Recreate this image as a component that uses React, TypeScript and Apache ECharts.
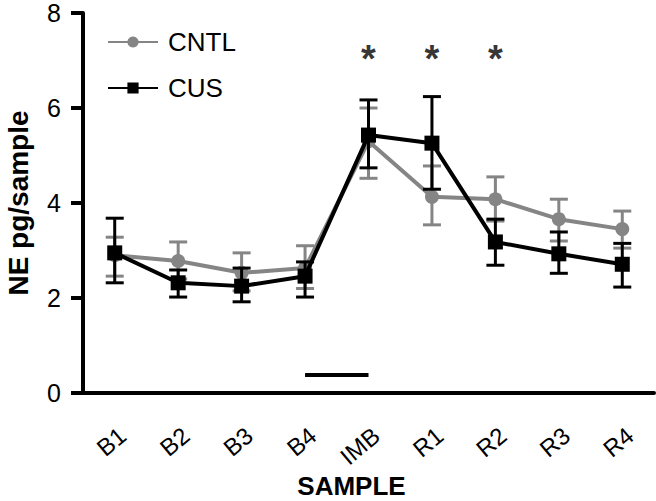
import React, { useEffect, useRef } from "react";
import * as echarts from "echarts";

const categories = ["B1", "B2", "B3", "B4", "IMB", "R1", "R2", "R3", "R4"];
const cntlMean = [2.9, 2.78, 2.53, 2.63, 5.3, 4.13, 4.08, 3.66, 3.45];
const cntlUpper = [3.28, 3.18, 2.95, 3.1, 6.0, 4.78, 4.55, 4.08, 3.83];
const cntlLower = [2.46, 2.4, 2.15, 2.2, 4.52, 3.54, 3.62, 3.2, 3.05];
const cusMean = [2.95, 2.32, 2.25, 2.46, 5.43, 5.26, 3.18, 2.93, 2.71];
const cusUpper = [3.68, 2.59, 2.63, 2.76, 6.17, 6.24, 3.66, 3.39, 3.15];
const cusLower = [2.32, 2.02, 1.92, 2.02, 4.74, 4.29, 2.69, 2.52, 2.23];
const starCategories = ["IMB", "R1", "R2"];
const starLevel = 7.2;
const barCategories = ["B4", "IMB"];
const barLevel = 0.38;
const yTicks = [0, 2, 4, 6, 8];

const GRAY = "#858585";
const BLACK = "#000000";
const FONT = "'Liberation Sans', Arial, Helvetica, sans-serif";

function errorSeries(lower: number[], upper: number[], color: string, z: number) {
  return {
    type: "custom",
    z,
    silent: true,
    data: categories.map((_, i) => [i, lower[i], upper[i]]),
    renderItem: (params: any, api: any) => {
      const x = api.value(0);
      const lo = api.coord([x, api.value(1)]);
      const hi = api.coord([x, api.value(2)]);
      const half = 9;
      const style = { stroke: color, lineWidth: 3 };
      return {
        type: "group",
        children: [
          { type: "line", shape: { x1: lo[0], y1: lo[1], x2: hi[0], y2: hi[1] }, style },
          { type: "line", shape: { x1: hi[0] - half, y1: hi[1], x2: hi[0] + half, y2: hi[1] }, style },
          { type: "line", shape: { x1: lo[0] - half, y1: lo[1], x2: lo[0] + half, y2: lo[1] }, style },
        ],
      };
    },
  };
}

export default function App() {
  const ref = useRef<HTMLDivElement>(null);
  useEffect(() => {
    if (!ref.current) return;
    const chart = echarts.init(ref.current, null, { renderer: "svg" });
    chart.setOption({
      animation: false,
      backgroundColor: "#ffffff",
      textStyle: { fontFamily: FONT },
      grid: {
        left: 83,
        right: 2,
        top: 13,
        bottom: 108,
        containLabel: false,
        outerBoundsMode: "none",
      },
      legend: {
        data: ["CNTL", "CUS"],
        orient: "vertical",
        left: 102,
        top: 24,
        itemWidth: 50,
        itemHeight: 14,
        itemGap: 20,
        textStyle: {
          fontSize: 26,
          lineHeight: 26,
          color: "#000",
          fontFamily: FONT,
          padding: [0, 0, 0, 5],
        },
      },
      xAxis: {
        type: "category",
        data: categories,
        boundaryGap: true,
        name: "SAMPLE",
        nameLocation: "middle",
        nameGap: 80,
        nameMoveOverlap: false,
        nameTextStyle: {
          fontSize: 26,
          lineHeight: 26,
          fontWeight: "bold",
          color: "#000",
          fontFamily: FONT,
          padding: [0, 34, 0, 0],
        },
        axisLine: { lineStyle: { color: "#000", width: 4 } },
        axisTick: { alignWithLabel: true, length: 11, lineStyle: { color: "#000", width: 4 } },
        axisLabel: {
          rotate: 40,
          fontSize: 24,
          lineHeight: 24,
          color: "#000",
          margin: 30,
          verticalAlign: "top",
          fontFamily: FONT,
        },
        splitLine: { show: false },
      },
      yAxis: {
        type: "value",
        min: yTicks[0],
        max: yTicks[yTicks.length - 1],
        interval: 2,
        name: "NE pg/sample",
        nameLocation: "middle",
        nameGap: 51,
        nameMoveOverlap: false,
        nameTextStyle: {
          fontSize: 28,
          lineHeight: 28,
          fontWeight: "bold",
          color: "#000",
          fontFamily: FONT,
        },
        axisLine: { show: true, lineStyle: { color: "#000", width: 4 } },
        axisTick: { show: true, length: 12, lineStyle: { color: "#000", width: 4 } },
        axisLabel: { fontSize: 25, color: "#000", margin: 22, fontFamily: FONT },
        splitLine: { show: false },
      },
      series: [
        errorSeries(cntlLower, cntlUpper, GRAY, 2),
        {
          name: "CNTL",
          type: "line",
          z: 3,
          data: cntlMean,
          symbol: "circle",
          symbolSize: 14,
          lineStyle: { color: GRAY, width: 4 },
          itemStyle: { color: GRAY },
        },
        errorSeries(cusLower, cusUpper, BLACK, 4),
        {
          name: "CUS",
          type: "line",
          z: 5,
          data: cusMean,
          symbol: "rect",
          symbolSize: 15,
          lineStyle: { color: BLACK, width: 4 },
          itemStyle: { color: BLACK },
        },
        {
          type: "line",
          z: 5,
          data: barCategories.map((c) => [c, barLevel]),
          symbol: "none",
          lineStyle: { color: BLACK, width: 4 },
          silent: true,
        },
        {
          type: "scatter",
          z: 6,
          data: starCategories.map((c) => [c, starLevel]),
          symbolSize: 1,
          itemStyle: { color: "rgba(0,0,0,0)" },
          label: {
            show: true,
            position: "inside",
            formatter: "*",
            fontSize: 38,
            fontWeight: "bold",
            color: "#000",
            fontFamily: FONT,
            offset: [0, 8],
          },
          silent: true,
        },
      ],
    });
    return () => chart.dispose();
  }, []);
  return <div ref={ref} style={{ width: 656, height: 501, position: "absolute", left: 0, top: 0 }} />;
}
